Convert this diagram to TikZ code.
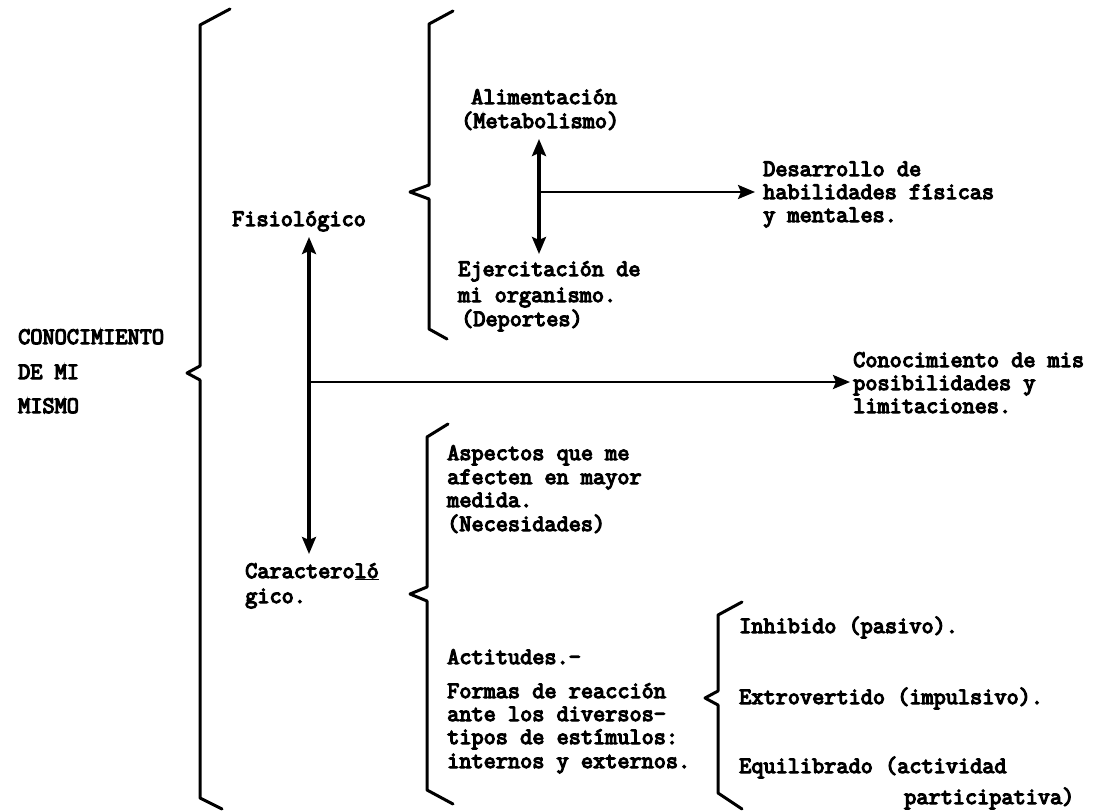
\documentclass[tikz,border=0pt]{standalone}
\usepackage{fontspec}
\setmonofont{Latin Modern Mono}[FakeBold=5]
\usetikzlibrary{arrows.meta}
\begin{document}
\begin{tikzpicture}[x=1pt,y=-1pt,
  txt/.style={anchor=base west, inner sep=0pt, font=\ttfamily\fontsize{23.6}{24}\selectfont},
  bracestyle/.style={line width=3pt, line join=round, line cap=round},
  onearrow/.style={line width=2.6pt, -{Stealth[length=17pt,width=14pt,inset=3pt]}},
  twoarrow/.style={line width=3.2pt, {Stealth[length=17pt,width=14pt,inset=3pt]}-{Stealth[length=17pt,width=14pt,inset=3pt]}}]
\useasboundingbox (0,0) rectangle (1102,811);
\fill[white] (0,0) rectangle (1102,811);

% braces
\draw[bracestyle] (230,9) -- (200,25) -- (200,366) -- (187,373) -- (200,380) -- (200,798) -- (222,809);
\draw[bracestyle] (453,11) -- (429,24) -- (429,185) -- (410,192) -- (429,199) -- (429,329) -- (447,339);
\draw[bracestyle] (448,424) -- (427,437) -- (427,587) -- (410,594) -- (427,601) -- (427,790) -- (453,804);
\draw[bracestyle] (742,602) -- (718,615) -- (718,691) -- (705,698) -- (718,705) -- (718,793) -- (742,809);

% texts
\node[txt] (c1) at (18,344) {CONOCIMIENTO};
\node[txt] (c2) at (18,379) {DE MI};
\node[txt] (c3) at (18,413) {MISMO};

\node[txt] (fis) at (232,226) {Fisiológico};
\node[txt] (car1) at (245,578) {Caractero\underline{ló}};
\node[txt] (car2) at (245,603) {gico.};

\node[txt] (ali1) at (471,104) {Alimentación};
\node[txt] (ali2) at (461,128) {(Metabolismo)};

\node[txt] (des1) at (763,176) {Desarrollo de};
\node[txt] (des2) at (763,199) {habilidades físicas};
\node[txt] (des3) at (763,222) {y mentales.};

\node[txt] (eje1) at (458,276) {Ejercitación de};
\node[txt] (eje2) at (458,302) {mi organismo.};
\node[txt] (eje3) at (461,326) {(Deportes)};

\node[txt] (con1) at (853,367) {Conocimiento de mis};
\node[txt] (con2) at (853,390) {posibilidades y};
\node[txt] (con3) at (853,413) {limitaciones.};

\node[txt] (asp1) at (447,460) {Aspectos que me};
\node[txt] (asp2) at (447,484) {afecten en mayor};
\node[txt] (asp3) at (447,507) {medida.};
\node[txt] (asp4) at (447,531) {(Necesidades)};

\node[txt] (act) at (447,664) {Actitudes.-};
\node[txt] (for1) at (447,698) {Formas de reacción};
\node[txt] (for2) at (447,721) {ante los diversos-};
\node[txt] (for3) at (447,744) {tipos de estímulos:};
\node[txt] (for4) at (447,768) {internos y externos.};

\node[txt] (inh) at (739,633) {Inhibido (pasivo).};
\node[txt] (ext) at (739,704) {Extrovertido (impulsivo).};
\node[txt] (equ1) at (739,773) {Equilibrado (actividad};
\node[txt] (equ2) at (904,804) {participativa)};

% connector points
\coordinate (v1top) at (309,237);
\coordinate (v1bot) at (309,554);
\coordinate (j1) at (309,382);
\coordinate (j1end) at (850,382);
\coordinate (v2top) at (539,139);
\coordinate (v2bot) at (539,254);
\coordinate (j2) at (539,192);
\coordinate (j2end) at (755,192);

\draw[twoarrow] (v1top) -- (v1bot);
\draw[onearrow] (j1) -- (j1end);
\draw[twoarrow] (v2top) -- (v2bot);
\draw[onearrow] (j2) -- (j2end);
\end{tikzpicture}
\end{document}
